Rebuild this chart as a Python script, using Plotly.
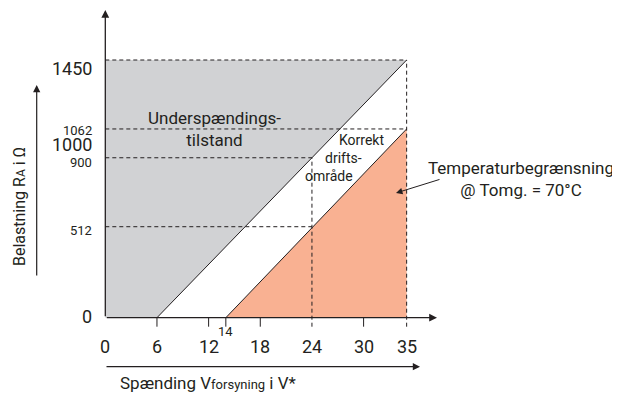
import plotly.graph_objects as go

# ---- data ----
x_ticks = [0, 6, 12, 18, 24, 30, 35]
x_minor_ticks = [6, 12, 14, 18, 30]
y_tick_vals = [0, 512, 900, 1000, 1062, 1450]
y_tick_text = ["0", "512", "900", "1000", "1062", "1450"]
y_tick_big = [True, False, False, True, False, True]

v_under = [6, 35]          # undervoltage boundary (V)
r_under = [0, 1450]        # load (Ohm)
v_temp = [14, 35]          # temperature-limit boundary (V)
r_temp = [0, 1062]
v_ref = 24
r_ref_hi = 900
r_ref_lo = 512
r_max = 1450
r_1062 = 1062
v_max = 35

# ---- geometry mapping (window pixels; page body has an 8px margin) ----
OFF = 8
W, H = 612, 393
px_x0, px_per_x = 105.3 - OFF, 8.61
px_y0, px_per_y = 317.7 - OFF, 0.17772
x_range = [-px_x0 / px_per_x, (W - px_x0) / px_per_x]
y_range = [-(H - px_y0) / px_per_y, px_y0 / px_per_y]
tick_len = 9 / px_per_y


def dx(px):
    return (px - OFF - px_x0) / px_per_x


def dy(py):
    return (px_y0 - (py - OFF)) / px_per_y


def pxp(px):
    return (px - OFF) / W


def pyp(py):
    return 1 - (py - OFF) / H


x_arrow_end = dx(437)
y_arrow_end = dy(10)

INK = "#231f20"
GRAY = "#d1d2d4"
ORANGE = "#f9b192"
FONT = "Roboto"

fig = go.Figure()

# gray undervoltage region
fig.add_trace(go.Scatter(
    x=[0, v_under[0], v_under[1], 0], y=[0, r_under[0], r_under[1], r_max],
    fill="toself", fillcolor=GRAY, line=dict(width=0), mode="lines",
    hoverinfo="skip", showlegend=False))
# orange temperature region
fig.add_trace(go.Scatter(
    x=[v_temp[0], v_temp[1], v_temp[1]], y=[r_temp[0], r_temp[1], 0],
    fill="toself", fillcolor=ORANGE, line=dict(width=0), mode="lines",
    hoverinfo="skip", showlegend=False))

# dashed guide lines
dash = "4px,3px"
guides = [
    ([0, v_max], [r_max, r_max]),
    ([0, v_max], [r_1062, r_1062]),
    ([0, v_ref], [r_ref_hi, r_ref_hi]),
    ([0, v_ref], [r_ref_lo, r_ref_lo]),
    ([v_ref, v_ref], [-tick_len, r_ref_hi]),
    ([v_max, v_max], [-tick_len, r_max]),
]
for gx, gy in guides:
    fig.add_trace(go.Scatter(x=gx, y=gy, mode="lines",
                             line=dict(color=INK, width=1, dash=dash),
                             hoverinfo="skip", showlegend=False))

# boundary lines
for bx, by in [(v_under, r_under), (v_temp, r_temp)]:
    fig.add_trace(go.Scatter(x=bx, y=by, mode="lines",
                             line=dict(color=INK, width=1),
                             hoverinfo="skip", showlegend=False))

# tick marks
for t in x_minor_ticks:
    fig.add_trace(go.Scatter(x=[t, t], y=[0, -tick_len], mode="lines",
                             line=dict(color=INK, width=1),
                             hoverinfo="skip", showlegend=False))

ann = []
# axes arrows
ann.append(dict(x=x_arrow_end, y=0, ax=0, ay=0, xref="x", yref="y",
                axref="x", ayref="y", showarrow=True, arrowhead=2,
                arrowsize=1.2, arrowwidth=1.3, arrowcolor=INK, text=""))
ann.append(dict(x=0, y=y_arrow_end, ax=0, ay=0, xref="x", yref="y",
                axref="x", ayref="y", showarrow=True, arrowhead=2,
                arrowsize=1.2, arrowwidth=1.3, arrowcolor=INK, text=""))

# x tick labels
for t in x_ticks:
    ann.append(dict(x=t, y=0, xref="x", yref="y", text=str(t), showarrow=False,
                    xanchor="center", yshift=-29,
                    font=dict(size=18, color=INK, family=FONT)))
ann.append(dict(x=14, y=0, xref="x", yref="y", text="14", showarrow=False,
                xanchor="center", yshift=-14,
                font=dict(size=13, color=INK, family=FONT)))

# y tick labels
shifts = {1450: -8, 1062: -2, 1000: -5, 900: -5, 512: -4, 0: 1}
for v, t, big in zip(y_tick_vals, y_tick_text, y_tick_big):
    ann.append(dict(x=0, y=v, xref="x", yref="y", text=t, showarrow=False,
                    xanchor="right", xshift=-11, yshift=shifts[v],
                    font=dict(size=18 if big else 13, color=INK, family=FONT)))

# region labels
ann.append(dict(x=dx(214.5), y=dy(129), xref="x", yref="y", showarrow=False,
                xanchor="center", text="Underspændings-<br>tilstand", align="center",
                font=dict(size=17, color=INK, family=FONT)))
for txt, cx, cy in [("Korrekt", 361, 140), ("drifts-", 343, 158), ("område", 329, 176)]:
    ann.append(dict(x=dx(cx), y=dy(cy), xref="x", yref="y", showarrow=False,
                    xanchor="center", text=txt,
                    font=dict(size=14, color=INK, family=FONT)))
ann.append(dict(x=dx(521), y=dy(179), xref="x", yref="y", showarrow=False,
                xanchor="center",
                text="Temperaturbegrænsning<br>@ Tomg. = 70°C", align="center",
                font=dict(size=17, color=INK, family=FONT)))
# pointer arrow
ann.append(dict(x=dx(396), y=dy(193), ax=dx(441), ay=dy(179),
                xref="x", yref="y", axref="x", ayref="y", showarrow=True,
                arrowhead=2, arrowsize=1.3, arrowwidth=1, arrowcolor=INK, text=""))

# axis titles with their arrows
ann.append(dict(x=pxp(36.7), y=pyp(85), xref="paper", yref="paper",
                ax=0, ay=192, showarrow=True, arrowhead=2, arrowsize=1.2,
                arrowwidth=1.2, arrowcolor=INK, text=""))
ann.append(dict(x=pxp(19), y=pyp(207), xref="paper", yref="paper",
                xanchor="center", yanchor="middle",
                showarrow=False, textangle=-90,
                text="Belastning R<span style='font-size:12px'>A</span> i Ω",
                font=dict(size=16, color=INK, family=FONT)))
ann.append(dict(x=pxp(420), y=pyp(366.7), xref="paper", yref="paper",
                ax=-315, ay=0, showarrow=True, arrowhead=2, arrowsize=1.2,
                arrowwidth=1.2, arrowcolor=INK, text=""))
ann.append(dict(x=pxp(118), y=pyp(383), xref="paper", yref="paper",
                showarrow=False, xanchor="left", yanchor="middle",
                text="Spænding V<span style='font-size:13px'>forsyning</span> i V*",
                font=dict(size=17, color=INK, family=FONT)))

fig.update_layout(
    width=W, height=H, margin=dict(l=0, r=0, t=0, b=0),
    paper_bgcolor="white", plot_bgcolor="white",
    xaxis=dict(range=x_range, visible=False, fixedrange=True),
    yaxis=dict(range=y_range, visible=False, fixedrange=True),
    annotations=ann, showlegend=False,
)
fig.write_html("out.html")
